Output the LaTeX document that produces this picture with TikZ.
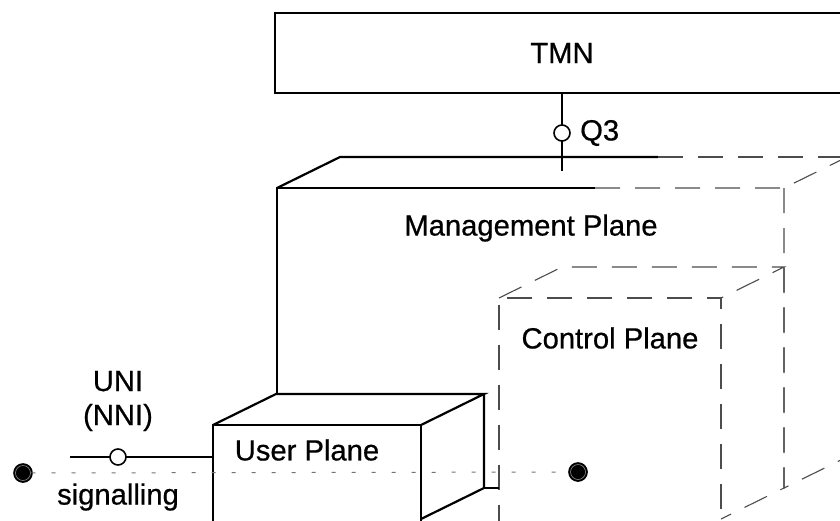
\documentclass[tikz,border=0pt]{standalone}
\usepackage{fontspec}
\setmainfont[FakeBold=0.6]{Liberation Sans}
\usepackage{tikz}
\usetikzlibrary{calc,positioning}
\tikzset{
%Define style for the different line styles
edge line/.style={line width=1.1pt},
hidden line/.style={line width=0.55pt, black!70, dash pattern=on 12.5pt off 7.5pt},
signal line/.style={line width=0.5pt, black!55, dash pattern=on 2pt off 8pt},
%Define style for the interface points
port/.style={circle, draw, line width=0.8pt, fill=white, inner sep=0pt, minimum size=8pt},
endpoint/.style={circle, draw=black, line width=1pt, double=black!45, double distance=0.3pt, fill=black, inner sep=0pt, minimum size=7.5pt},
plane label/.style={font=\fontsize{14.6}{17}\selectfont, inner sep=0pt, align=center},
}

\begin{document}
\begin{tikzpicture}[x=0.5pt, y=-0.5pt]
    \useasboundingbox (0,0) rectangle (840,520);
    \clip (0,0) rectangle (840,520);
    %Depth of all boxes
    \coordinate (d) at (63,-31);

    %TMN box
    \draw[edge line] (275,13) rectangle (890,93);
    \node[plane label] (tmn) at (562,53) {TMN};
    \coordinate (tmnport) at (562,93);
    \coordinate (q3end) at (562,171);
    \draw[edge line] (tmnport) -- (q3end);
    \node[port] (q3) at (562,133) {};
    \node[plane label, right=4.5pt of q3] (q3label) {Q3};

    %%%%%%%%%%%%%%%%%%%%%%
    %Management plane
    %%%%%%%%%%%%%%%%%%%%%%
    \coordinate (mfl) at (277,188);
    \coordinate (mfr) at (784,188);
    \coordinate (mbl) at ($(mfl)+(d)$);
    \coordinate (mbr) at ($(mfr)+(d)$);
    \coordinate (mlow) at (784,488);
    \draw[edge line] (277,394) -- (mfl) -- (595,188);
    \draw[edge line] (mfl) -- (mbl) -- (658,157);
    \draw[hidden line] (595,188) -- (mfr) -- (mbr);
    \draw[hidden line] (658,157) -- (mbr);
    \draw[hidden line] (mfr) -- (mlow) -- ($(mlow)+(d)$);
    \node[plane label] (mgmt) at (531,228) {Management Plane};

    %%%%%%%%%%%%%%%%%%%%%%
    %Control plane
    %%%%%%%%%%%%%%%%%%%%%%
    \coordinate (cfl) at (499,298);
    \coordinate (cfr) at (721,298);
    \draw[hidden line] (499,530) -- (cfl) -- (cfr) -- (721,530);
    \draw[hidden line] (cfl) -- ($(cfl)+(d)$) -- ($(cfr)+(d)$) -- (cfr);
    \draw[hidden line] ($(cfr)+(d)$) -- (mlow) -- ($(mlow)-(d)$);
    \node[plane label] (ctrl) at (610,338) {Control Plane};

    %%%%%%%%%%%%%%%%%%%%%%
    %User plane
    %%%%%%%%%%%%%%%%%%%%%%
    \coordinate (ufl) at (213,425);
    \coordinate (ufr) at (421,425);
    \coordinate (ulow) at (484,488);
    \draw[edge line] (213,530) -- (ufl) -- (ufr) -- (421,530);
    \draw[edge line] (ufl) -- ($(ufl)+(d)$) -- ($(ufr)+(d)$) -- (ufr);
    \draw[edge line] ($(ufr)+(d)$) -- (ulow) -- ($(ulow)-(d)$);
    \draw[edge line] (ulow) -- (499,488);
    \node[plane label] (user) at (307,450) {User Plane};

    %UNI interface
    \coordinate (unistart) at (70,457);
    \coordinate (uniend) at (213,457);
    \draw[edge line] (unistart) -- (uniend);
    \node[port] (uni) at (118,457) {};
    \node[plane label] (unilabel) at (118,401) {UNI\\(NNI)};

    %Signalling path
    \node[endpoint] (sigleft) at (23,473) {};
    \node[endpoint] (sigright) at (578,472) {};
    \draw[signal line] (sigleft) -- (sigright);
    \node[plane label] (sig) at (118,497) {signalling};
\end{tikzpicture}
\end{document}
